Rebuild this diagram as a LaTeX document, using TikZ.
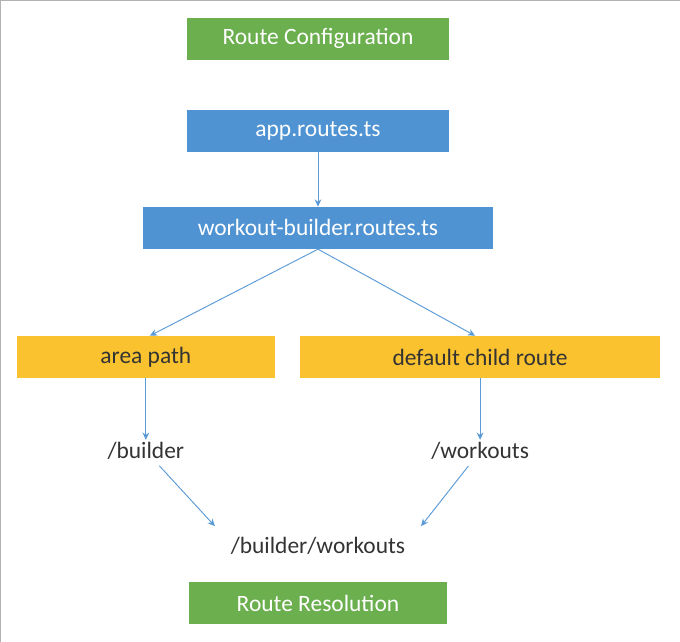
\documentclass[tikz,border=0pt]{standalone}
\usepackage{fontspec}
\setmainfont{Carlito}
\usetikzlibrary{arrows.meta,positioning}
\definecolor{cfgreen}{HTML}{6BAF4F}
\definecolor{cfblue}{HTML}{4F93D2}
\definecolor{cfyellow}{HTML}{F9C22E}
\definecolor{cfline}{HTML}{5A9AD6}
\begin{document}
\begin{tikzpicture}[
      x=0.03cm, y=-0.03cm,
      font=\fontsize{20}{24}\selectfont,
      box/.style={minimum height=42*0.03cm, inner sep=0pt, text=white},
      green box/.style={box, fill=cfgreen, minimum width=261*0.03cm},
      blue box/.style={box, fill=cfblue},
      yellow box/.style={box, fill=cfyellow, text=black!80},
      path/.style={text=black!80, inner sep=2pt},
      >={Stealth[length=2.2mm,width=2mm]},
      arr/.style={->, cfline, line width=0.8pt}
    ]
    \draw[gray!60] (0.5,0.5) rectangle (679.5,641.5);
    % Configuration side
    \node[green box] (cfg) at (318,39) {Route Configuration};
    \node[blue box, minimum width=261*0.03cm] (app) at (318,131) {app.routes.ts};
    \node[blue box, minimum width=350*0.03cm] (wb) at (318,228) {workout-builder.routes.ts};
    \draw[arr] (app) -- (wb);

    % Child routes
    \node[yellow box, minimum width=258*0.03cm] (area) at (146,357) {area path};
    \node[yellow box, minimum width=360*0.03cm] (dflt) at (480,357) {default child route};
    \draw[arr] (wb.south) -- (area.north -| 150,0);
    \draw[arr] (wb.south) -- (dflt.north -| 475,0);

    % Resolved paths
    \node[path] (bld) at (146,451) {/builder};
    \node[path] (wko) at (480,451) {/workouts};
    \node[path] (res) at (318,546) {/builder/workouts};
    \coordinate (bldin) at (215,526);
    \coordinate (wkoin) at (421,526);
    \draw[arr] (area) -- (bld);
    \draw[arr] (dflt) -- (wko);
    \draw[arr, shorten <=4pt] (bld) -- (bldin);
    \draw[arr, shorten <=4pt] (wko) -- (wkoin);

    \node[green box, minimum width=257*0.03cm] (rsl) at (318,603) {Route Resolution};
\end{tikzpicture}
\end{document}
